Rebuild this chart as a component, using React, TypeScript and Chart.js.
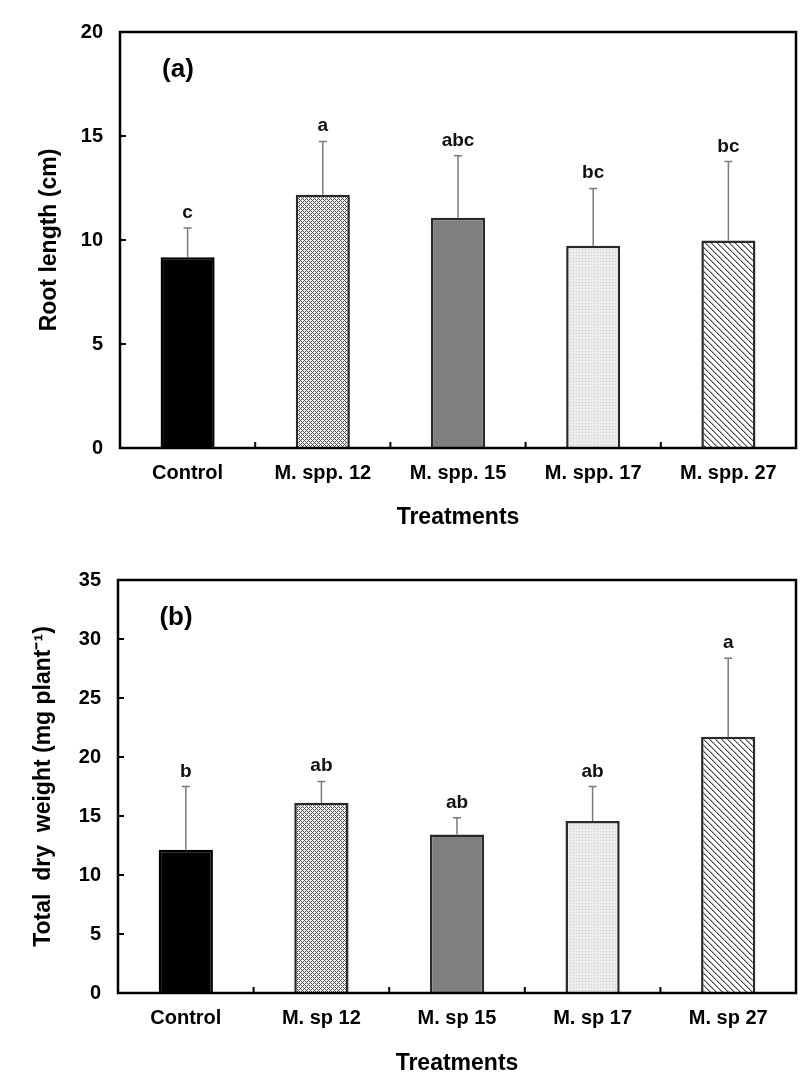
import React, { useEffect, useRef } from 'react';
import { Chart, registerables } from 'chart.js';

Chart.register(...registerables);

// ---------- Data ----------
const rootCategories = ['Control', 'M. spp. 12', 'M. spp. 15', 'M. spp. 17', 'M. spp. 27'];
const rootLength = [9.17, 12.18, 11.07, 9.72, 9.97];
const rootLengthErr = [1.41, 2.56, 2.98, 2.76, 3.8];
const rootLetters = ['c', 'a', 'abc', 'bc', 'bc'];

const dryCategories = ['Control', 'M. sp 12', 'M. sp 15', 'M. sp 17', 'M. sp 27'];
const dryWeight = [12.15, 16.12, 13.43, 14.57, 21.72];
const dryWeightErr = [5.34, 1.81, 1.43, 2.92, 6.64];
const dryLetters = ['b', 'ab', 'ab', 'ab', 'a'];

const rootTicks = [0, 5, 10, 15, 20];
const dryTicks = [0, 5, 10, 15, 20, 25, 30, 35];

const FONT = '"Liberation Sans", Arial, Helvetica, sans-serif';

// ---------- Patterns ----------
function pixelPattern(w: number, h: number, colorAt: (r: number, c: number) => [number, number, number]) {
  const cv = document.createElement('canvas');
  cv.width = w;
  cv.height = h;
  const g = cv.getContext('2d')!;
  const img = g.createImageData(w, h);
  for (let r = 0; r < h; r++) {
    for (let c = 0; c < w; c++) {
      const [R, G, B] = colorAt(r, c);
      const k = (r * w + c) * 4;
      img.data[k] = R;
      img.data[k + 1] = G;
      img.data[k + 2] = B;
      img.data[k + 3] = 255;
    }
  }
  g.putImageData(img, 0, 0);
  return g.createPattern(cv, 'repeat')!;
}

function makeFills(): (string | CanvasPattern)[] {
  const cross = pixelPattern(4, 4, (r, c) => {
    const d = (((r - c) % 4) + 4) % 4 === 0 || (r + c) % 4 === 0;
    return d ? [80, 80, 80] : [245, 245, 245];
  });
  const dots = pixelPattern(3, 3, (r, c) => (r === 0 && c === 0 ? [205, 205, 205] : [236, 236, 236]));
  const diag = pixelPattern(6, 6, (r, c) => {
    const m = (((c - r) % 6) + 6) % 6;
    if (m === 0) return [80, 80, 80];
    if (m === 1) return [165, 165, 165];
    return [255, 255, 255];
  });
  return ['#000000', cross, '#7f7f7f', dots, diag];
}

type PanelProps = {
  categories: string[];
  values: number[];
  errors: number[];
  letters: string[];
  ticks: number[];
  yTitle: string;
  panelLabel: string;
  top: number;
  height: number;
  padTop: number;
  yWidth: number;
  xHeight: number;
  yTitlePad: number;
  xTitlePad: number;
};

function Panel(p: PanelProps) {
  const ref = useRef<HTMLCanvasElement | null>(null);

  useEffect(() => {
    const canvas = ref.current;
    if (!canvas) return;
    const fills = makeFills();

    const decor = {
      id: 'decor',
      afterDatasetsDraw(chart: any) {
        const { ctx } = chart;
        const ys = chart.scales.y;
        const meta = chart.getDatasetMeta(0);
        ctx.save();
        ctx.strokeStyle = '#7a7a7a';
        ctx.lineWidth = 1.5;
        p.values.forEach((v, i) => {
          const bx = meta.data[i].x;
          const y0 = ys.getPixelForValue(v);
          const y1 = ys.getPixelForValue(v + p.errors[i]);
          ctx.beginPath();
          ctx.moveTo(bx, y0);
          ctx.lineTo(bx, y1);
          ctx.moveTo(bx - 4, y1);
          ctx.lineTo(bx + 4, y1);
          ctx.stroke();
        });
        ctx.restore();
      },
      afterDraw(chart: any) {
        const { ctx, chartArea } = chart;
        const { left, right, top, bottom } = chartArea;
        const ys = chart.scales.y;
        const xs = chart.scales.x;
        ctx.save();
        // frame
        ctx.strokeStyle = '#000';
        ctx.lineWidth = 2.5;
        ctx.strokeRect(left, top, right - left, bottom - top);
        // inward y ticks
        ctx.lineWidth = 2;
        ys.ticks.forEach((_t: any, i: number) => {
          const py = ys.getPixelForTick(i);
          ctx.beginPath();
          ctx.moveTo(left, py);
          ctx.lineTo(left + 6, py);
          ctx.stroke();
        });
        // inward x ticks between categories
        for (let i = 1; i < p.categories.length; i++) {
          const px = xs.getPixelForValue(i - 0.5);
          ctx.beginPath();
          ctx.moveTo(px, bottom);
          ctx.lineTo(px, bottom - 6);
          ctx.stroke();
        }
        // significance letters
        const meta = chart.getDatasetMeta(0);
        ctx.fillStyle = '#111';
        ctx.font = `bold 19px ${FONT}`;
        ctx.textAlign = 'center';
        ctx.textBaseline = 'alphabetic';
        p.letters.forEach((l, i) => {
          const bx = meta.data[i].x;
          const y1 = ys.getPixelForValue(p.values[i] + p.errors[i]);
          ctx.fillText(l, bx, y1 - 10);
        });
        // panel label
        ctx.font = `bold 26px ${FONT}`;
        ctx.textBaseline = 'middle';
        ctx.fillStyle = '#000';
        ctx.fillText(p.panelLabel, left + 58, top + 38);
        ctx.restore();
      },
    };

    const chart = new Chart(canvas, {
      type: 'bar',
      data: {
        labels: p.categories,
        datasets: [
          {
            data: p.values,
            backgroundColor: fills as any,
            borderColor: ['#000', '#2a2a2a', '#2a2a2a', '#2a2a2a', '#2a2a2a'],
            borderWidth: 2.5,
            barPercentage: 0.4,
            categoryPercentage: 1.0,
          },
        ],
      },
      options: {
        responsive: false,
        animation: false,
        devicePixelRatio: 1,
        layout: { padding: { left: 0, right: 13, top: p.padTop, bottom: 0 } },
        plugins: {
          legend: { display: false },
          tooltip: { enabled: false },
        },
        scales: {
          x: {
            grid: { display: false, drawTicks: false },
            border: { display: false },
            ticks: {
              color: '#000',
              font: { family: FONT, size: 20, weight: 'bold' },
              padding: 13,
              maxRotation: 0,
              autoSkip: false,
            },
            title: {
              display: true,
              text: 'Treatments',
              color: '#000',
              font: { family: FONT, size: 23, weight: 'bold' },
              padding: { top: 0, bottom: p.xTitlePad },
            },
            afterFit: (s: any) => {
              s.height = p.xHeight;
            },
          },
          y: {
            min: p.ticks[0],
            max: p.ticks[p.ticks.length - 1],
            afterBuildTicks: (s: any) => {
              s.ticks = p.ticks.map((v) => ({ value: v }));
            },
            grid: { display: false, drawTicks: false },
            border: { display: false },
            ticks: {
              color: '#000',
              font: { family: FONT, size: 20, weight: 'bold' },
              padding: 17,
            },
            title: {
              display: true,
              text: p.yTitle,
              color: '#000',
              font: { family: FONT, size: 23, weight: 'bold' },
              padding: { top: p.yTitlePad, bottom: 0 },
            },
            afterFit: (s: any) => {
              s.width = p.yWidth;
            },
          },
        },
      },
      plugins: [decor],
    } as any);

    return () => chart.destroy();
  }, []);

  return (
    <canvas
      ref={ref}
      width={809}
      height={p.height}
      style={{ position: 'absolute', left: 0, top: p.top, width: 809, height: p.height }}
    />
  );
}

export default function App() {
  return (
    <div style={{ position: 'absolute', left: 0, top: 0, width: 809, height: 1089, background: '#fff' }}>
      <Panel
        categories={rootCategories}
        values={rootLength}
        errors={rootLengthErr}
        letters={rootLetters}
        ticks={rootTicks}
        yTitle="Root length (cm)"
        panelLabel="(a)"
        top={0}
        height={540}
        padTop={32}
        yWidth={120}
        xHeight={92}
        yTitlePad={36}
        xTitlePad={9}
      />
      <Panel
        categories={dryCategories}
        values={dryWeight}
        errors={dryWeightErr}
        letters={dryLetters}
        ticks={dryTicks}
        yTitle="Total  dry  weight (mg plant⁻¹)"
        panelLabel="(b)"
        top={540}
        height={549}
        padTop={40}
        yWidth={118}
        xHeight={96}
        yTitlePad={30}
        xTitlePad={12}
      />
    </div>
  );
}
